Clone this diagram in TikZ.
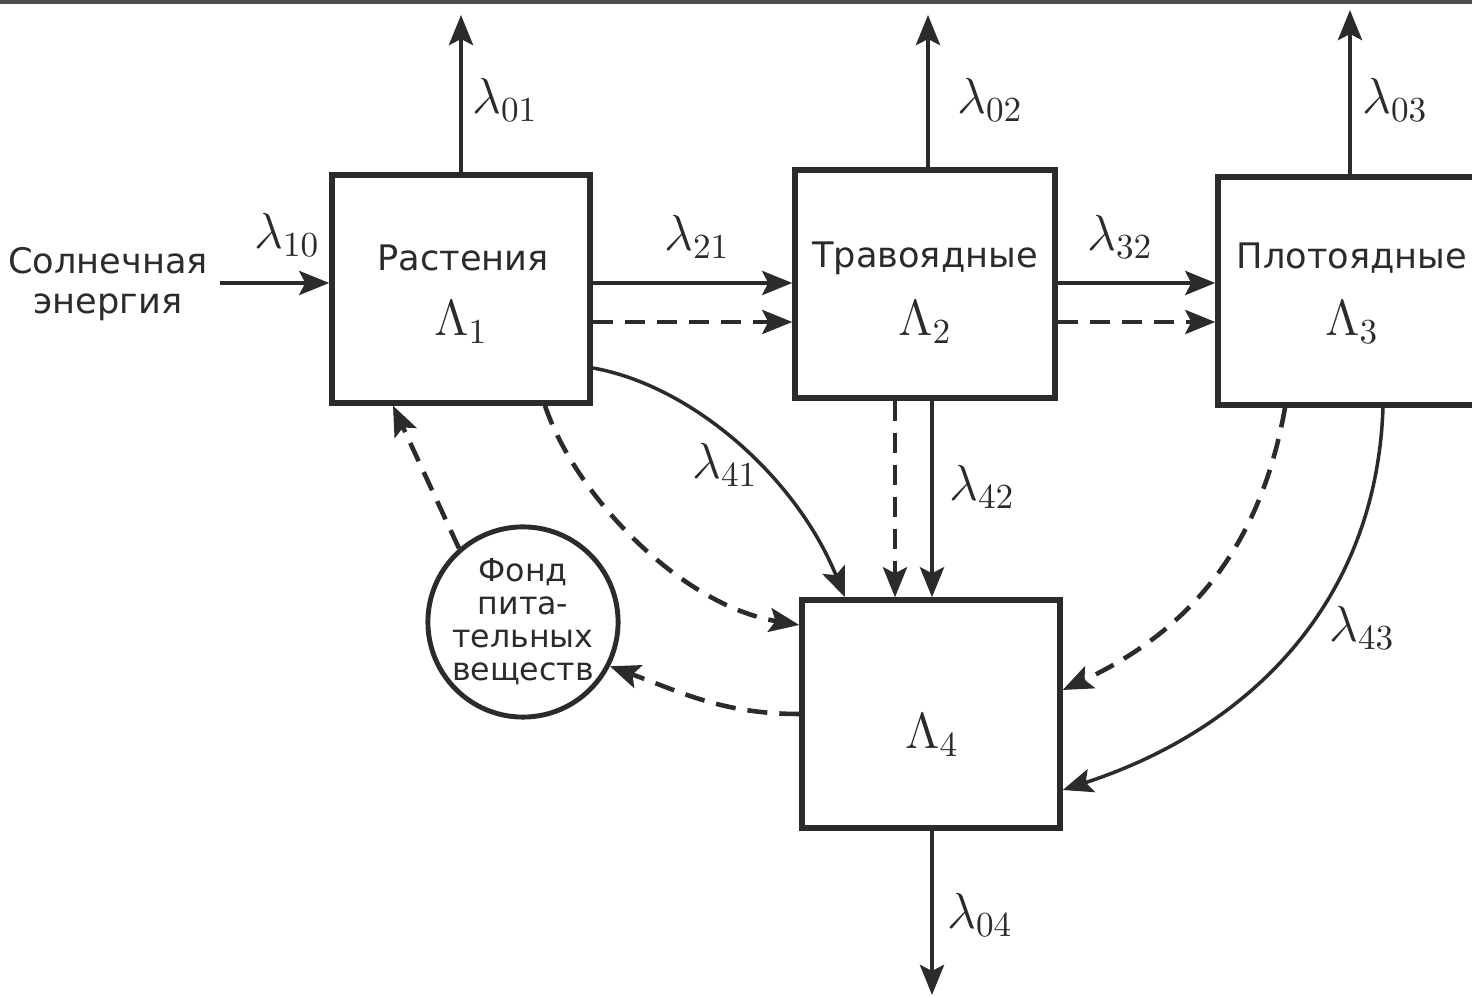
\documentclass[tikz,border=0pt]{standalone}
\usepackage[no-math]{fontspec}
\newfontfamily\sans{DejaVu Sans}
\usetikzlibrary{arrows.meta}
\definecolor{scanedge}{HTML}{4A4A52}
\definecolor{ink}{HTML}{2B2B2B}

\begin{document}
\begin{tikzpicture}[x=0.01cm,y=-0.01cm,
  stock/.style={draw=ink,line width=1.5pt,rectangle,minimum width=2.58cm,minimum height=2.28cm,inner sep=0pt},
  pool/.style={draw=ink,line width=1.4pt,circle,minimum size=1.9cm,inner sep=0pt,align=center,text=ink,
    font=\sans\fontsize{9}{9.4}\selectfont},
  trophic/.style={font=\sans\fontsize{10}{11.5}\selectfont,text=ink,align=center},
  lam/.style={font=\fontsize{14}{16}\selectfont,text=ink},
  flow/.style={draw=ink,line width=1.3pt,-{Stealth[length=3mm,width=2.4mm,inset=0.6mm]}},
  thinflow/.style={flow,line width=1pt},
  leak/.style={flow,dash pattern=on 2mm off 1.2mm}]

\clip (0,0) rectangle (1472,998);
\fill[scanedge] (0,0) rectangle (1472,4);

% Уровни
\node[stock] (plants) at (461,289) {};
\node[stock,minimum width=2.6cm] (herbiv) at (925,284) {};
\node[stock,minimum width=2.64cm] (carniv) at (1350,291) {};
\node[stock] (detrit) at (931,714) {};
\node[pool] (fund) at (523,622) {Фонд\\пита-\\тельных\\веществ};

% Подписи в блоках
\node[trophic] (plantsname) at (463,258) {Растения};
\node[lam] (L1) at (461,322) {$\Lambda_1$};
\node[trophic] (herbivname) at (925,258) {Травоядные};
\node[lam] (L2) at (925,322) {$\Lambda_2$};
\node[trophic] (carnivname) at (1352,258) {Плотоядные};
\node[lam] (L3) at (1352,322) {$\Lambda_3$};
\node[lam] (L4) at (932,735) {$\Lambda_4$};

\node[trophic] (sun) at (108,284) {Солнечная\\энергия};

% Выходы
\coordinate (out1) at (461,15);
\coordinate (out2) at (928,15);
\coordinate (out3) at (1350,10);
\coordinate (out4) at (932,995);

\draw[flow] (plants.north) -- (out1);
\draw[flow] (herbiv.north -| out2) -- (out2);
\draw[flow] (carniv.north) -- (out3);
\draw[flow] (detrit.south -| out4) -- (out4);

% Потоки между уровнями
\draw[flow] (sun.east |- 0,283) -- (plants.west |- 0,283);
\draw[flow] (plants.east |- 0,283) -- (herbiv.west |- 0,283);
\draw[leak] (plants.east |- 0,322) -- (herbiv.west |- 0,322);
\draw[flow] (herbiv.east |- 0,283) -- (carniv.west |- 0,283);
\draw[leak] (herbiv.east |- 0,322) -- (carniv.west |- 0,322);

\draw[leak] (herbiv.south -| 895,0) -- (detrit.north -| 895,0);
\draw[flow] (herbiv.south -| 932,0) -- (detrit.north -| 932,0);

\draw[thinflow] (plants.east |- 0,368) .. controls (690,385) and (795,475) .. (detrit.north -| 845,0);
\draw[leak] (plants.south -| 545,0) .. controls (575,495) and (680,605) .. (detrit.west |- 0,625);
\draw[leak] (fund.131) -- (plants.south -| 393,0);
\draw[leak] (detrit.west) to[out=180,in=-20] (fund.-27);
\draw[leak] (carniv.south -| 1285,0) to[out=-100,in=25] (detrit.east |- 0,690);
\draw[thinflow] (carniv.south -| 1383,0) to[out=-92,in=18] (detrit.east |- 0,790);

% Коэффициенты
\node[lam] (l10) at (287,235) {$\lambda_{10}$};
\node[lam] (l01) at (505,100) {$\lambda_{01}$};
\node[lam] (l21) at (697,237) {$\lambda_{21}$};
\node[lam] (l02) at (990,100) {$\lambda_{02}$};
\node[lam] (l32) at (1120,237) {$\lambda_{32}$};
\node[lam] (l03) at (1395,100) {$\lambda_{03}$};
\node[lam] (l41) at (725,465) {$\lambda_{41}$};
\node[lam] (l42) at (982,487) {$\lambda_{42}$};
\node[lam] (l43) at (1362,628) {$\lambda_{43}$};
\node[lam] (l04) at (980,915) {$\lambda_{04}$};

\end{tikzpicture}
\end{document}
